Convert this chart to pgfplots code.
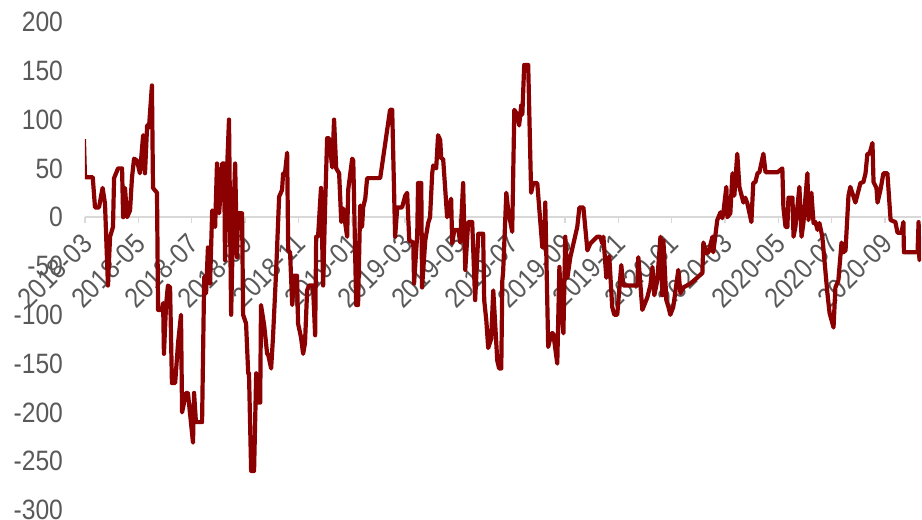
\documentclass[border=0pt]{standalone}
\usepackage{fontspec}
\setmainfont{Liberation Sans}[FakeStretch=0.88]
\usepackage{pgfplots}
\pgfplotsset{compat=1.18}
\definecolor{serie}{RGB}{139,0,0}
\definecolor{ticktext}{RGB}{89,89,89}
\definecolor{zeroline}{RGB}{217,217,217}
\begin{document}
\begin{tikzpicture}
\begin{axis}[
  set layers=standard,
  scale only axis, width=418pt, height=244pt,
  xmin=0, xmax=31.35, ymin=-300, ymax=200,
  axis x line=middle, axis y line=left,
  x axis line style={draw=zeroline, line width=0.8pt, -},
  y axis line style={draw=none},
  hide obscured x ticks=false, hide obscured y ticks=false,
  xtick={0,2,...,30},
  xticklabels={2018-03,2018-05,2018-07,2018-09,2018-11,2019-01,2019-03,2019-05,
    2019-07,2019-09,2019-11,2020-01,2020-03,2020-05,2020-07,2020-09},
  ytick={-300,-250,...,200},
  tick align=outside,
  major tick length=3pt,
  xtick style={draw=zeroline, line width=0.8pt},
  ytick style={draw=none},
  tick label style={font=\fontsize{14}{16}\selectfont, text=ticktext},
  xticklabel style={xshift=3.5pt, yshift=-5.5pt, rotate=45, anchor=east},
  yticklabel style={anchor=east, xshift=-4.5pt},
  /pgf/number format/assume math mode=true,
  /pgf/number format/1000 sep={},
]
\addplot[serie, line width=2.1pt, line join=round, no marks] coordinates {
(-0.04,80) (0,41) (0.29,41) (0.375,10) (0.525,10) (0.66,30) (0.75,14) (0.86,-70)
(0.94,-20) (1.05,-10) (1.09,40) (1.24,50) (1.39,50) (1.43,0) (1.50,30) (1.58,0)
(1.69,7) (1.76,40) (1.84,60) (1.95,58) (2.06,45) (2.18,84) (2.25,45) (2.33,94)
(2.40,92) (2.51,135) (2.55,30) (2.70,25) (2.74,-95) (2.89,-95) (2.93,-88) (2.96,-140)
(3.04,-90) (3.11,-70) (3.19,-72) (3.26,-170) (3.38,-170) (3.49,-129) (3.60,-100) (3.64,-200)
(3.79,-180) (3.86,-180) (4.05,-231) (4.09,-180) (4.16,-210) (4.39,-210) (4.47,-61) (4.54,-78)
(4.61,-31) (4.69,-68) (4.77,7) (4.88,-10) (4.95,55) (5.03,4) (5.07,20) (5.14,55)
(5.22,55) (5.25,-44) (5.33,51) (5.40,100) (5.44,-3) (5.48,-100) (5.55,-10) (5.63,55)
(5.70,-41) (5.74,4) (5.89,4) (5.93,-100) (6.04,-109) (6.12,-160) (6.15,-160) (6.23,-260)
(6.34,-260) (6.42,-160) (6.49,-190) (6.57,-190) (6.60,-90) (6.72,-111) (6.83,-140) (6.87,-141)
(6.98,-155) (7.05,-123) (7.17,-54) (7.24,-6) (7.28,21) (7.39,28) (7.43,45) (7.50,45)
(7.58,66) (7.62,-34) (7.69,-36) (7.77,-90) (7.84,-60) (7.95,-60) (7.99,-109) (8.10,-123)
(8.18,-140) (8.25,-129) (8.33,-75) (8.40,-70) (8.55,-70) (8.63,-121) (8.67,-20) (8.74,-20)
(8.85,30) (8.93,-70) (9.00,7) (9.08,81) (9.15,81) (9.27,51) (9.34,100) (9.42,50)
(9.53,45) (9.61,-5) (9.68,9) (9.83,-20) (9.87,28) (10.02,60) (10.06,58) (10.17,-90)
(10.24,-90) (10.32,12) (10.39,-10) (10.43,10) (10.51,19) (10.58,40) (11.07,40) (11.44,110)
(11.52,110) (11.63,-20) (11.71,10) (11.89,10) (12.01,22) (12.08,25) (12.16,-24) (12.31,-26)
(12.34,-68) (12.46,-17) (12.49,35) (12.61,35) (12.64,-72) (12.76,-24) (12.87,-6) (12.94,0)
(13.02,45) (13.06,53) (13.17,50) (13.24,84) (13.32,79) (13.36,60) (13.43,60) (13.58,0)
(13.66,10) (13.73,19) (13.77,-27) (13.85,-13) (14.00,-13) (14.07,-26) (14.18,35) (14.26,-54)
(14.37,-5) (14.52,-5) (14.63,-85) (14.75,-17) (14.93,-17) (14.97,-85) (15.05,-106) (15.12,-134)
(15.23,-125) (15.31,-75) (15.46,-147) (15.53,-155) (15.61,-155) (15.65,-65) (15.68,-56) (15.80,25)
(15.87,7) (16.02,-15) (16.10,110) (16.21,105) (16.28,94) (16.36,115) (16.40,105) (16.47,156)
(16.62,156) (16.73,25) (16.81,35) (16.96,35) (17.15,-31) (17.22,-31) (17.26,15) (17.37,-133)
(17.49,-119) (17.56,-119) (17.71,-150) (17.79,-51) (17.86,-95) (17.94,-119) (18.01,-20) (18.09,-62)
(18.20,-41) (18.46,-10) (18.54,10) (18.69,10) (18.84,-34) (18.95,-27) (19.21,-20) (19.32,-20)
(19.40,-27) (19.44,-20) (19.55,-62) (19.66,-40) (19.77,-92) (19.85,-100) (19.96,-100) (20.11,-49)
(20.19,-70) (20.71,-70) (20.75,-41) (20.90,-95) (21.09,-82) (21.20,-70) (21.28,-51) (21.35,-80)
(21.46,-65) (21.58,-20) (21.65,-80) (21.69,-24) (21.80,-85) (21.88,-92) (21.95,-100) (22.06,-92)
(22.25,-54) (22.33,-78) (22.44,-72) (22.70,-68) (22.96,-62) (23.15,-57) (23.19,-26) (23.30,-37)
(23.38,-36) (23.53,-20) (23.56,-36) (23.71,-3) (23.83,5) (23.90,-1) (23.94,5) (24.05,31)
(24.09,0) (24.20,4) (24.28,45) (24.35,22) (24.46,65) (24.54,31) (24.69,15) (24.76,20)
(24.84,14) (24.99,-5) (25.06,35) (25.14,36) (25.22,45) (25.29,46) (25.44,65) (25.52,46)
(25.97,46) (26.15,50) (26.19,10) (26.27,-10) (26.34,-10) (26.38,20) (26.53,20) (26.57,-20)
(26.64,-10) (26.79,31) (26.87,-20) (26.94,-6) (27.09,45) (27.13,-3) (27.24,25) (27.32,-6)
(27.39,-5) (27.47,-13) (27.54,-6) (27.65,-20) (27.84,-78) (27.92,-98) (28.07,-113) (28.14,-72)
(28.25,-65) (28.37,-26) (28.44,-36) (28.52,-34) (28.63,22) (28.70,31) (28.82,21) (28.89,15)
(29.08,35) (29.19,36) (29.27,45) (29.34,65) (29.42,65) (29.53,76) (29.57,36) (29.68,30)
(29.72,15) (29.83,28) (29.94,45) (30.09,45) (30.21,-3) (30.39,-5) (30.47,-16) (30.62,-16)
(30.69,-5) (30.71,-36) (31.22,-36) (31.26,-5) (31.29,-44) (31.33,-36)
};
\end{axis}
\pgfresetboundingbox
\path ([shift={(-42.5pt,-5pt)}]current axis.south west) rectangle ([shift={(0.5pt,11pt)}]current axis.north east);
\end{tikzpicture}
\end{document}
